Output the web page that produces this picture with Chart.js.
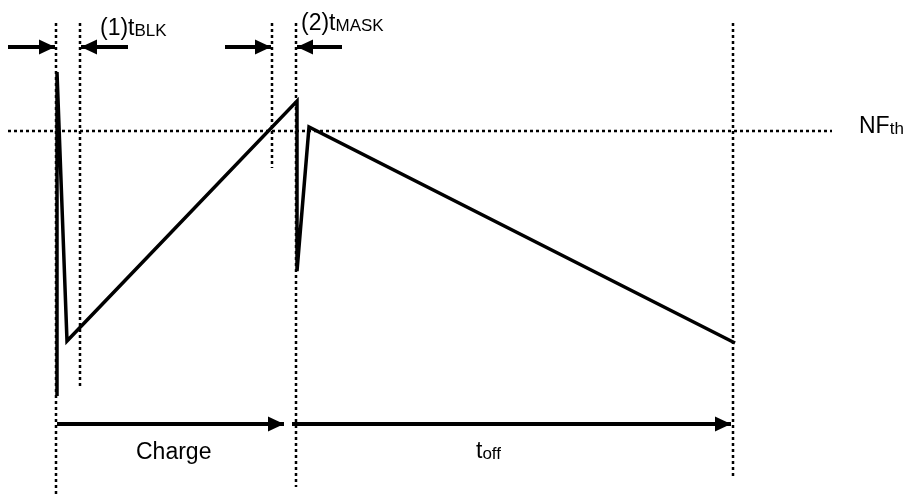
<!DOCTYPE html>
<html>
<head>
<meta charset="utf-8">
<script src="https://cdn.jsdelivr.net/npm/chart.js@4"></script>
<style>
  body { margin: 0; background: #fff; }
  #wrap { width: 904px; height: 500px; }
</style>
</head>
<body>
<div id="wrap"><canvas id="timing" width="904" height="500"></canvas></div>
<script>
// signal trace (time, level)
const waveTime  = [57, 57, 67, 297, 297, 309, 735];
const waveLevel = [104, 428, 159, 399, 229, 373, 157];

// noise filter threshold
const thresholdLevel = 369;
const thresholdSpan  = [8, 832];

// dotted time markers
const markerTime   = [56, 80, 272, 296, 733];
const markerTop    = 477;
const markerBottom = [5, 113, 332, 13, 22];

// arrows: from -> to at a level
const arrowFrom  = [8, 128, 225, 342, 57, 292];
const arrowTo    = [55, 81, 271, 297, 284, 731];
const arrowLevel = [453, 453, 453, 453, 76, 76];

// text labels (main text + subscript)
const labelMain  = ['(1)t', '(2)t', 'NF', 'Charge', 't'];
const labelSub   = ['BLK', 'MASK', 'th', '', 'off'];
const labelTime  = [100, 301, 859, 136, 476];
const labelLevel = [465, 470, 367, 41, 42];

const FONT = '"Liberation Sans", Arial, sans-serif';

// markers as one dataset, broken by gaps
const markerPoints = [];
markerTime.forEach((t, i) => {
  markerPoints.push({x: t, y: markerTop}, {x: t, y: markerBottom[i]}, {x: t, y: null});
});

const arrowSets = arrowFrom.map((f, i) => ({
  data: [{x: f, y: arrowLevel[i]}, {x: arrowTo[i], y: arrowLevel[i]}],
  borderColor: '#000',
  borderWidth: 4,
  arrow: true
}));

// draws filled arrow heads at the last point of arrow datasets
const arrowHeads = {
  id: 'arrowHeads',
  afterDatasetsDraw(chart) {
    const ctx = chart.ctx;
    chart.data.datasets.forEach((ds, i) => {
      if (!ds.arrow) return;
      const pts = chart.getDatasetMeta(i).data;
      const a = pts[pts.length - 2], b = pts[pts.length - 1];
      const ang = Math.atan2(b.y - a.y, b.x - a.x);
      ctx.save();
      ctx.translate(b.x, b.y);
      ctx.rotate(ang);
      ctx.beginPath();
      ctx.moveTo(0, 0);
      ctx.lineTo(-16, -7.5);
      ctx.lineTo(-16, 7.5);
      ctx.closePath();
      ctx.fillStyle = '#000';
      ctx.fill();
      ctx.restore();
    });
  }
};

const textLabels = {
  id: 'textLabels',
  afterDraw(chart) {
    const ctx = chart.ctx;
    const xs = chart.scales.x, ys = chart.scales.y;
    ctx.save();
    ctx.fillStyle = '#000';
    ctx.textBaseline = 'alphabetic';
    labelMain.forEach((txt, i) => {
      const px = xs.getPixelForValue(labelTime[i]);
      const py = ys.getPixelForValue(labelLevel[i]);
      ctx.font = '23px ' + FONT;
      ctx.fillText(txt, px, py);
      if (labelSub[i]) {
        const w = ctx.measureText(txt).width;
        ctx.font = '17px ' + FONT;
        ctx.fillText(labelSub[i], px + w, py + 1);
      }
    });
    ctx.restore();
  }
};

new Chart(document.getElementById('timing'), {
  type: 'line',
  data: {
    datasets: [
      {
        data: waveTime.map((t, i) => ({x: t, y: waveLevel[i]})),
        borderColor: '#000',
        borderWidth: 3.5
      },
      ...arrowSets,
      {
        data: [{x: thresholdSpan[0], y: thresholdLevel}, {x: thresholdSpan[1], y: thresholdLevel}],
        borderColor: '#000',
        borderWidth: 2.5,
        borderDash: [3, 3]
      },
      {
        data: markerPoints,
        borderColor: '#000',
        borderWidth: 2.5,
        borderDash: [3, 3],
        spanGaps: false
      }
    ]
  },
  options: {
    responsive: false,
    animation: false,
    events: [],
    layout: { padding: 0 },
    elements: { point: { radius: 0 }, line: { tension: 0 } },
    scales: {
      x: { type: 'linear', min: 0, max: 904, display: false },
      y: { type: 'linear', min: 0, max: 500, display: false }
    },
    plugins: {
      legend: { display: false },
      tooltip: { enabled: false }
    }
  },
  plugins: [arrowHeads, textLabels]
});
</script>
</body>
</html>
